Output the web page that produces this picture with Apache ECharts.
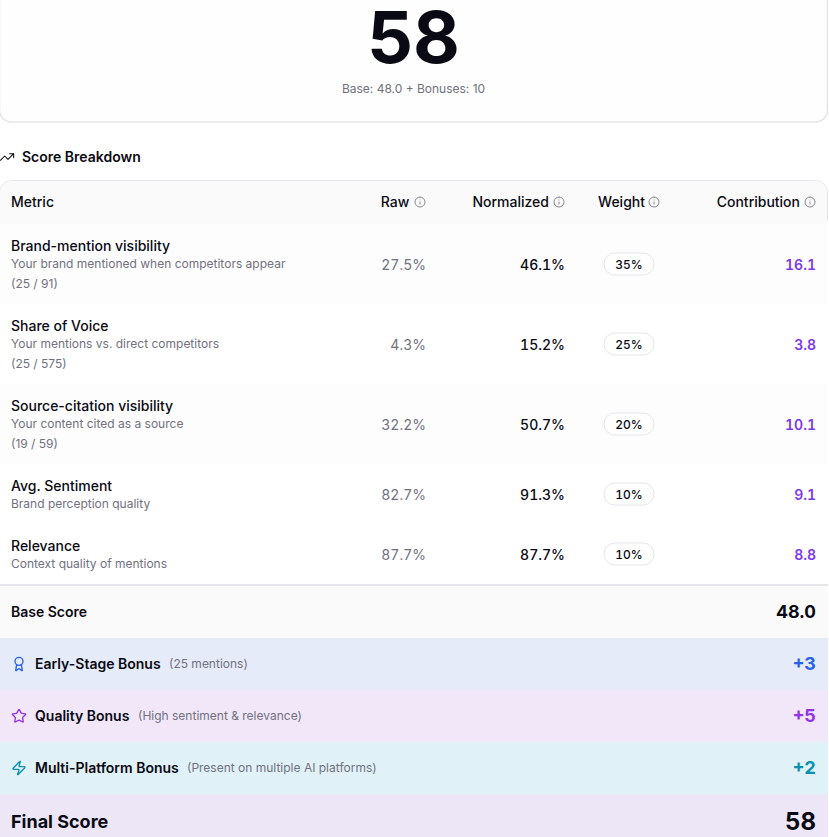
<!DOCTYPE html>
<html><head><meta charset="utf-8">
<script src="https://cdn.jsdelivr.net/npm/echarts@6/dist/echarts.min.js"></script>
<style>
html,body{margin:0;padding:0;background:#fff}
#c{width:829px;height:837px}
text[style*="TNum"]{font-variant-numeric:tabular-nums !important;font-feature-settings:"tnum" 1 !important}
</style></head><body><div id="c"></div>
<script>
const finalScore = "58";
const scoreNote = "Base: 48.0 + Bonuses: 10";
const sectionTitle = "Score Breakdown";
const columns = ["Metric","Raw","Normalized","Weight","Contribution"];
const metrics = ["Brand-mention visibility","Share of Voice","Source-citation visibility","Avg. Sentiment","Relevance"];
const descriptions = ["Your brand mentioned when competitors appear","Your mentions vs. direct competitors","Your content cited as a source","Brand perception quality","Context quality of mentions"];
const fractions = ["(25 / 91)","(25 / 575)","(19 / 59)","",""];
const rawValues = [27.5,4.3,32.2,82.7,87.7];
const normalizedValues = [46.1,15.2,50.7,91.3,87.7];
const weights = [35,25,20,10,10];
const contributions = [16.1,3.8,10.1,9.1,8.8];
const baseLabel = "Base Score";
const baseValue = "48.0";
const bonusNames = ["Early-Stage Bonus","Quality Bonus","Multi-Platform Bonus"];
const bonusNotes = ["(25 mentions)","(High sentiment & relevance)","(Present on multiple AI platforms)"];
const bonusValues = ["+3","+5","+2"];
const finalLabel = "Final Score";

const F = "Inter, sans-serif", FT = "Inter, TNum, sans-serif";
const INK = "#0a0a14", GRAY = "#71717f", LINE = "#e6e6ea";
const ICON = {
  trend:"M22 7L13.5 15.5L8.5 10.5L2 17M16 7H22V13",
  info:"M12 2a10 10 0 1 0 0 20a10 10 0 1 0 0-20M12 16v-4M12 8h.01",
  award:"m15.477 12.89 1.515 8.526a.5.5 0 0 1-.81.47l-3.58-2.687a1 1 0 0 0-1.197 0l-3.586 2.686a.5.5 0 0 1-.81-.469l1.514-8.526M12 2a6 6 0 1 0 0 12a6 6 0 1 0 0-12",
  star:"M11.525 2.295a.53.53 0 0 1 .95 0l2.31 4.679a2.123 2.123 0 0 0 1.595 1.16l5.166.756a.53.53 0 0 1 .294.904l-3.736 3.638a2.123 2.123 0 0 0-.611 1.878l.882 5.14a.53.53 0 0 1-.771.56l-4.618-2.428a2.122 2.122 0 0 0-1.973 0L6.396 21.01a.53.53 0 0 1-.77-.56l.881-5.139a2.122 2.122 0 0 0-.611-1.879L2.16 9.795a.53.53 0 0 1 .294-.906l5.165-.755a2.122 2.122 0 0 0 1.597-1.16z",
  zap:"M4 14a1 1 0 0 1-.78-1.63l9.9-10.2a.5.5 0 0 1 .86.46l-1.92 6.02A1 1 0 0 0 13 10h7a1 1 0 0 1 .78 1.63l-9.9 10.2a.5.5 0 0 1-.86-.46l1.92-6.02A1 1 0 0 0 11 14z"
};
const T = (text,x,y,size,weight,fill,align,family) => ({type:"text",x,y,silent:true,style:{text,x:0,y:0,fill,font:`${weight} ${size}px ${family||F}`,textAlign:align||"left",textVerticalAlign:"middle"}});
const R = (x,y,width,height,fill,r,stroke,lw) => ({type:"rect",silent:true,shape:{x,y,width,height,r:r||0},style:{fill,stroke:stroke||null,lineWidth:lw||0}});
const P = (d,x,y,size,stroke,lw) => ({type:"path",silent:true,x,y,scaleX:size/24,scaleY:size/24,shape:{pathData:d},style:{fill:"none",stroke,lineWidth:lw,lineCap:"round",lineJoin:"round"}});

const rowTops = [224,304,384,464,524], rowHeights = [80,80,80,60,60], rowFills = ["#fdfdfd","#ffffff","#fdfdfd","#ffffff","#ffffff"];
const colRight = [0,426,565,0,816], headRight = [0,410,549,645,800], infoX = [0,414,553,648,804];
const bandTops = [638,690,742], bandFills = ["#e5ebf9","#f1e7f9","#e0f2f7"], bandInk = ["#2563eb","#9333ea","#0891b2"], bandIcons = ["award","star","zap"], noteX = [169,138,187];

function chrome(){
  const c = [
    R(-0.5,-30,828,152,"#fefefe",12,LINE,1.5),
    P(ICON.trend,-1,149,16,INK,1.5),
    T(finalScore,413.5,36,72,700,INK,"center"),
    T(scoreNote,413.5,88,12,400,GRAY,"center"),
    T(sectionTitle,22,156,14,600,INK),
    R(-0.5,180.5,828,40,"#ffffff",[12,12,0,0],LINE,1),
    R(0,181,827,43,"#fafafa",[12,12,0,0])
  ];
  columns.forEach((h,i)=>{
    if(i===0){c.push(T(h,11,201,14,500,INK));return;}
    c.push(T(h,headRight[i]-(i===1?0.6:0),201,14,500,INK,"right"));
    c.push(P(ICON.info,infoX[i],196,12,"#7a7a86",1.8));
  });
  return c;
}
function metricRow(i){
  const y=rowTops[i], h=rowHeights[i], m=y+h/2;
  const three = !!fractions[i];
  const c=[R(0,y,827,h,rowFills[i])];
  c.push(T(metrics[i],11,y+21,14,500,INK));
  c.push(T(descriptions[i],11,y+39,12,400,GRAY));
  if(three) c.push(T(fractions[i],11,y+59,12,400,GRAY));
  c.push(T(rawValues[i].toFixed(1)+"%",colRight[1],m,14,400,GRAY,"right",FT));
  c.push(T(normalizedValues[i].toFixed(1)+"%",colRight[2],m,14,500,INK,"right",FT));
  c.push(R(604,m-11,50,22,"#ffffff",11,LINE,1));
  c.push(T(weights[i]+"%",629,m,12,500,INK,"center",FT));
  c.push(T(contributions[i].toFixed(1),colRight[4],m,14,600,"#7c3aed","right",FT));
  return c;
}
function footer(){
  const c=[
    R(0,584,828,2,LINE),
    R(0,586,828,52,"#fafafa"),
    T(baseLabel,11,611,14,600,INK),
    T(baseValue,816,611,18,700,INK,"right",FT),
    R(0,794,828,43,"#ece6f7"),
    T(finalLabel,11,821.5,18,700,INK),
    T(finalScore,816,821,24,700,INK,"right",FT)
  ];
  bonusNames.forEach((n,i)=>{
    const y=bandTops[i];
    c.push(R(0,y,828,52,bandFills[i]));
    c.push(P(ICON[bandIcons[i]],11,y+18,16,bandInk[i],2));
    c.push(T(n,35,y+25,14,600,INK));
    c.push(T(bonusNotes[i],noteX[i],y+25,12,400,GRAY));
    c.push(T(bonusValues[i],816,y+25.5,18,700,bandInk[i],"right",FT));
  });
  return c;
}
const chart = echarts.init(document.getElementById("c"),null,{renderer:"svg"});
chart.setOption({
  animation:false,
  backgroundColor:"#ffffff",
  series:[{
    type:"custom",
    coordinateSystem:"none",
    silent:true,
    clip:false,
    data:[["chrome"],...metrics.map((m,i)=>[i]),["footer"]],
    renderItem:(p,api)=>{
      if(p.dataIndex===0) return {type:"group",children:chrome()};
      if(p.dataIndex===metrics.length+1) return {type:"group",children:footer()};
      return {type:"group",children:metricRow(p.dataIndex-1)};
    }
  }]
});
</script></body></html>
